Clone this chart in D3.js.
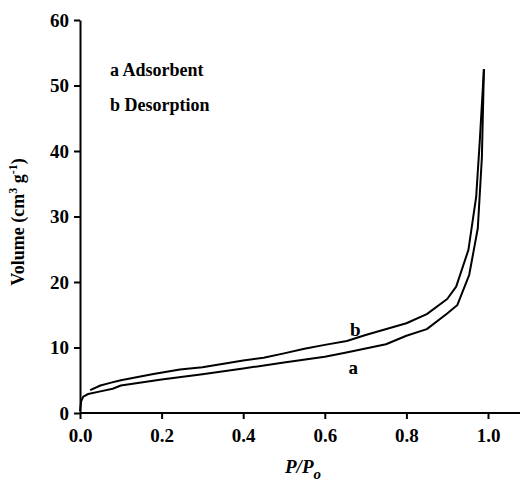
<!DOCTYPE html>
<html>
<head>
<meta charset="utf-8">
<script src="https://cdn.jsdelivr.net/npm/d3@7"></script>
<style>
  body { margin: 0; background: #fff; }
</style>
</head>
<body>
<div id="chart"></div>
<script>
// isotherm data
var adsP = [0, 0.003, 0.008, 0.02, 0.05, 0.08, 0.1, 0.2, 0.3, 0.4, 0.5, 0.6, 0.65, 0.75, 0.8, 0.85, 0.9, 0.925, 0.954, 0.975, 0.985, 0.99];
var adsV = [0.3, 1.8, 2.5, 2.9, 3.3, 3.7, 4.2, 5.1, 5.9, 6.8, 7.7, 8.6, 9.2, 10.5, 11.8, 12.8, 15.2, 16.5, 21.1, 28.2, 39, 52.5];
var desP = [0.99, 0.98, 0.971, 0.952, 0.922, 0.9, 0.85, 0.8, 0.7, 0.654, 0.6, 0.55, 0.5, 0.45, 0.4, 0.3, 0.245, 0.18, 0.1, 0.074, 0.05, 0.025];
var desV = [52.5, 41.7, 33, 24.9, 19.3, 17.4, 15.1, 13.7, 11.9, 11.0, 10.4, 9.8, 9.1, 8.45, 8.0, 7.0, 6.65, 5.95, 5.0, 4.6, 4.2, 3.5];
var xTicks = [0, 0.2, 0.4, 0.6, 0.8, 1.0];
var yTicks = [0, 10, 20, 30, 40, 50, 60];

var FONT = "Liberation Serif";

var svgWidth = 523, svgHeight = 480;
var margin = { top: 20, right: 3, bottom: 67, left: 80 };
var width = svgWidth - margin.left - margin.right;
var height = svgHeight - margin.top - margin.bottom;

var svg = d3.select("#chart").append("svg")
  .attr("width", svgWidth)
  .attr("height", svgHeight)
  .attr("font-family", FONT)
  .attr("font-weight", "bold");

var chartGroup = svg.append("g")
  .attr("transform", `translate(${margin.left}, ${margin.top})`);

// 1.0 sits at 408px, the axis line runs a bit past it
var x = d3.scaleLinear().domain([0, 1.0]).range([0, 408]);
var y = d3.scaleLinear().domain([0, 60]).range([height, 0]);

// axes
var xAxis = d3.axisBottom(x).tickValues(xTicks).tickFormat(d3.format(".1f")).tickSize(6).tickSizeOuter(0);
var yAxis = d3.axisLeft(y).tickValues(yTicks).tickSize(6).tickSizeOuter(0);

var gx = chartGroup.append("g")
  .attr("transform", `translate(0, ${height})`)
  .call(xAxis);
gx.select(".domain").attr("d", `M0,0H${width}`);

var gy = chartGroup.append("g").call(yAxis);

[gx, gy].forEach(function(g) {
  g.attr("font-family", FONT).attr("font-weight", "bold").attr("font-size", 19);
  g.select(".domain").attr("stroke", "#000").attr("stroke-width", 2);
  g.selectAll(".tick line").attr("stroke", "#000").attr("stroke-width", 2);
  g.selectAll(".tick text").attr("fill", "#000");
});
gx.selectAll(".tick text").attr("dy", "1.05em");
gy.selectAll(".tick text").attr("dx", "-0.1em");

// curves
var line = d3.line()
  .x(d => x(d[0]))
  .y(d => y(d[1]));

var ads = adsP.map((p, i) => [p, adsV[i]]);
var des = desP.map((p, i) => [p, desV[i]]);

[ads, des].forEach(function(s) {
  chartGroup.append("path")
    .datum(s)
    .attr("fill", "none")
    .attr("stroke", "#000")
    .attr("stroke-width", 2)
    .attr("stroke-linejoin", "round")
    .attr("d", line);
});

// curve labels
chartGroup.append("text")
  .attr("x", x(0.675)).attr("y", y(11.8))
  .attr("text-anchor", "middle")
  .attr("font-size", 19)
  .text("b");
chartGroup.append("text")
  .attr("x", x(0.67)).attr("y", y(6.0))
  .attr("text-anchor", "middle")
  .attr("font-size", 19)
  .text("a");

// legend text
svg.append("text").attr("x", 110).attr("y", 76).attr("font-size", 18).text("a Adsorbent");
svg.append("text").attr("x", 110).attr("y", 111).attr("font-size", 18).text("b Desorption");

// axis titles
var xt = svg.append("text")
  .attr("x", 303).attr("y", 473)
  .attr("text-anchor", "middle")
  .attr("font-size", 19)
  .attr("font-style", "italic");
xt.append("tspan").text("P/P");
xt.append("tspan").attr("dy", 6).attr("font-size", 15).text("o");

var yt = svg.append("text")
  .attr("transform", "translate(24, 222) rotate(-90)")
  .attr("text-anchor", "middle")
  .attr("font-size", 18);
yt.append("tspan").text("Volume (cm");
yt.append("tspan").attr("dy", -7).attr("font-size", 12).text("3");
yt.append("tspan").attr("dy", 7).text(" g");
yt.append("tspan").attr("dy", -7).attr("font-size", 12).text("-1");
yt.append("tspan").attr("dy", 7).text(")");
</script>
</body>
</html>
